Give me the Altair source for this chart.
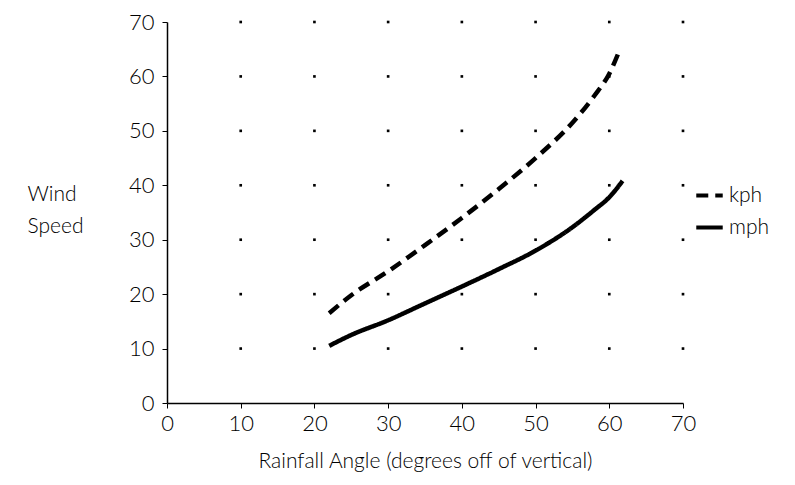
import altair as alt
import pandas as pd

# data
kph_angle = [22, 25, 30, 35, 40, 45, 50, 55, 58, 60, 61.3]
kph_speed = [16.5, 19.8, 24.2, 29.0, 34.0, 39.3, 45.0, 51.5, 56.5, 60.5, 64.5]
mph_angle = [22, 25, 30, 35, 40, 45, 50, 55, 58, 60, 61.8]
mph_speed = [10.5, 12.5, 15.2, 18.3, 21.4, 24.6, 28.0, 32.3, 35.5, 37.8, 40.8]
grid_x = [10, 20, 30, 40, 50, 60, 70]
grid_y = [10, 20, 30, 40, 50, 60, 70]
ticks = [0, 10, 20, 30, 40, 50, 60, 70]

rows = []
for a, s in zip(kph_angle, kph_speed):
    rows.append({"angle": a, "speed": s, "unit": "kph"})
for a, s in zip(mph_angle, mph_speed):
    rows.append({"angle": a, "speed": s, "unit": "mph"})
lines_df = pd.DataFrame(rows)
dots_df = pd.DataFrame([{"gx": x, "gy": y} for x in grid_x for y in grid_y])

FONT = "Lato"

xscale = alt.Scale(domain=[0, 70], nice=False, zero=True)
yscale = alt.Scale(domain=[0, 70], nice=False, zero=True)

dots = alt.Chart(dots_df).mark_square(size=7, color="black", opacity=1).encode(
    x=alt.X("gx:Q", scale=xscale,
            axis=alt.Axis(values=ticks, title="Rainfall Angle (degrees off of vertical)",
                          labelFontSize=22, titleFontSize=21, labelPadding=5,
                          titlePadding=16, tickSize=5, labelFlush=False)),
    y=alt.Y("gy:Q", scale=yscale,
            axis=alt.Axis(values=ticks, title=["Wind", "Speed"], titleAngle=0,
                          titleAlign="left", titleBaseline="alphabetic",
                          titleX=-140, titleY=178, titleFontSize=21,
                          titleLineHeight=32,
                          labelFontSize=22, labelPadding=8, tickSize=5,
                          labelFlush=False)),
)

lines = alt.Chart(lines_df).mark_line(interpolate="monotone", color="black").encode(
    x=alt.X("angle:Q", scale=xscale),
    y=alt.Y("speed:Q", scale=yscale),
    detail="unit:N",
    strokeDash=alt.StrokeDash("unit:N",
                              scale=alt.Scale(domain=["kph", "mph"], range=[[12, 7], [1, 0]]),
                              legend=alt.Legend(title=None, orient="none", legendX=527,
                                                legendY=158, symbolType="stroke",
                                                symbolStrokeWidth=4, symbolSize=700,
                                                symbolStrokeColor="black",
                                                labelFontSize=21, rowPadding=6,
                                                labelOffset=4)),
    strokeWidth=alt.value(4.5),
)

chart = (dots + lines).properties(
    width=516, height=381,
    autosize=alt.AutoSizeParams(type="none"),
    padding={"left": 159, "top": 14, "right": 100, "bottom": 72},
).configure_view(stroke=None).configure_axis(
    grid=False, domainColor="black", tickColor="black", labelColor="black",
    titleColor="black", labelFont=FONT, titleFont=FONT, labelFontWeight=300,
    titleFontWeight=300, domainWidth=1.5,
).configure_legend(labelFont=FONT, labelFontWeight=300, labelColor="black")

chart.save("out.html", embed_options={"renderer": "svg", "actions": False})
